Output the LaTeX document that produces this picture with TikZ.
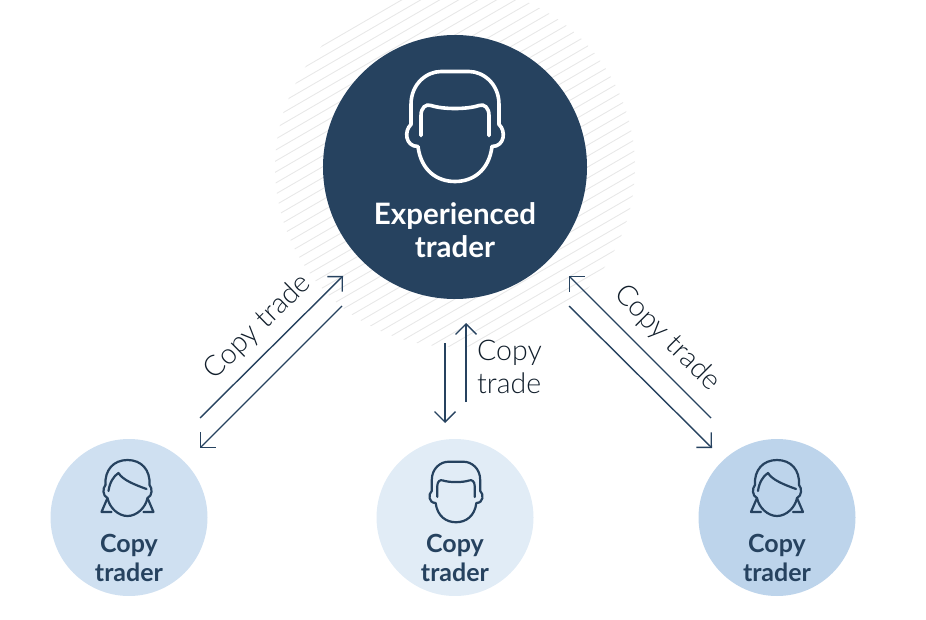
\documentclass[tikz,border=0pt]{standalone}
\usepackage{fontspec}
\setmainfont{Lato}
\newfontfamily\thinfont{Lato Light}
\usepackage{xcolor}
\usetikzlibrary{arrows.meta}
\definecolor{navy}{HTML}{26425F}
\definecolor{bubbleA}{HTML}{CFE0F1}
\definecolor{bubbleB}{HTML}{E1ECF6}
\definecolor{bubbleC}{HTML}{BDD4EB}
\definecolor{hatchgrey}{HTML}{E8E8E8}

\begin{document}
\begin{tikzpicture}[
  x=1pt, y=-1pt,
  expert/.style={circle, minimum size=264pt, inner sep=0pt, fill=navy},
  bubble/.style={circle, minimum size=157pt, inner sep=0pt},
  flow/.style={draw=navy, line width=1.4pt, -{Straight Barb[length=10.5pt,width=21pt,line width=1.4pt]}},
  flowtext/.style={font=\thinfont\fontsize{28.5}{33}\selectfont, text=navy!45!black, inner sep=0pt},
  who/.style={font=\fontsize{25}{29}\selectfont\bfseries, text=navy, align=center, inner sep=0pt},
  man/.pic={
    \draw[line join=round, line cap=round, pic actions]
      (-34,9) -- (-34,-11) .. controls (-34,-19) and (-29,-23) .. (-24,-21)
      .. controls (-12,-17) and (12,-17) .. (24,-21)
      .. controls (29,-23) and (34,-19) .. (34,-11) -- (34,9);
    \draw[line join=round, line cap=round, pic actions]
      (-37,20) .. controls (-50,20) and (-51,4) .. (-44,-2)
      -- (-44,-22) .. controls (-44,-43) and (-28,-55) .. (-14,-55)
      -- (14,-55) .. controls (28,-55) and (44,-43) .. (44,-22)
      -- (44,-2) .. controls (51,4) and (50,20) .. (37,20)
      .. controls (34,44) and (18,55) .. (0,55)
      .. controls (-18,55) and (-34,44) .. (-37,20);
  },
  woman/.pic={
    \draw[line join=round, line cap=round, pic actions]
      (-19,3) .. controls (-18,-5) and (-14,-12) .. (-9,-15)
      .. controls (-5,-8) and (8,-3) .. (19,1);
    \draw[line join=round, line cap=round, pic actions]
      (-22,-3) .. controls (-23,-18) and (-14,-28) .. (0,-28)
      .. controls (14,-28) and (23,-18) .. (22,-3)
      .. controls (25,0) and (25,8) .. (20,10)
      -- (26,24) -- (16,24);
    \draw[line join=round, line cap=round, pic actions]
      (-22,-3) .. controls (-25,0) and (-25,8) .. (-20,10)
      -- (-26,24) -- (-16,24);
    \draw[line join=round, line cap=round, pic actions]
      (-20,10) .. controls (-18,20) and (-9,28) .. (0,28)
      .. controls (9,28) and (18,20) .. (20,10);
  },
]
\useasboundingbox (0,0) rectangle (926,620);

% hatched halo behind the big circle
\begin{scope}
  \clip (455,167) circle [radius=180];
  \foreach \k in {-30,...,30} {
    \draw[hatchgrey, line width=0.9pt] (255,{167+11*\k+116}) -- (655,{167+11*\k-116});
  }
\end{scope}

% big circle
\node[expert] (lead) at (455,167) {};
\pic[white, line width=3.6pt] at (455,126.5) {man};
\node[who, text=white, font=\fontsize{29.5}{33}\selectfont\bfseries] (leadtext) at (455,230) {Experienced\\trader};

% three followers
\node[bubble, fill=bubbleA] (left) at (129,517.5) {};
\pic[navy, line width=2.2pt] at (127.5,488) {woman};
\node[who] (lefttext) at (129,558) {Copy\\trader};

\node[bubble, fill=bubbleB] (mid) at (455,517.5) {};
\pic[navy, line width=2.2pt, scale=0.55] at (456,492) {man};
\node[who] (midtext) at (455,558) {Copy\\trader};

\node[bubble, fill=bubbleC] (right) at (777,517.5) {};
\pic[navy, line width=2.2pt] at (777,488) {woman};
\node[who] (righttext) at (777,558) {Copy\\trader};

% end points of the arrows
\coordinate (la) at (200,418);
\coordinate (lb) at (343,276);
\coordinate (lc) at (342,306);
\coordinate (ld) at (200,448);
\coordinate (ma) at (466,402);
\coordinate (mb) at (466,323);
\coordinate (mc) at (445,343);
\coordinate (md) at (445,423);
\coordinate (ra) at (711,418);
\coordinate (rb) at (569,276);
\coordinate (rc) at (569,306);
\coordinate (rd) at (712,448);

\draw[flow] (la) -- (lb);
\draw[flow] (lc) -- (ld);
\draw[flow] (ma) -- (mb);
\draw[flow] (mc) -- (md);
\draw[flow] (ra) -- (rb);
\draw[flow] (rc) -- (rd);

% arrow labels
\node[flowtext, rotate=44.5] (ltext) at (258,327) {Copy trade};
\node[flowtext, anchor=west, align=left] (mtext) at (477,367) {Copy\\trade};
\node[flowtext, rotate=-45] (rtext) at (667,338) {Copy trade};
\end{tikzpicture}
\end{document}
